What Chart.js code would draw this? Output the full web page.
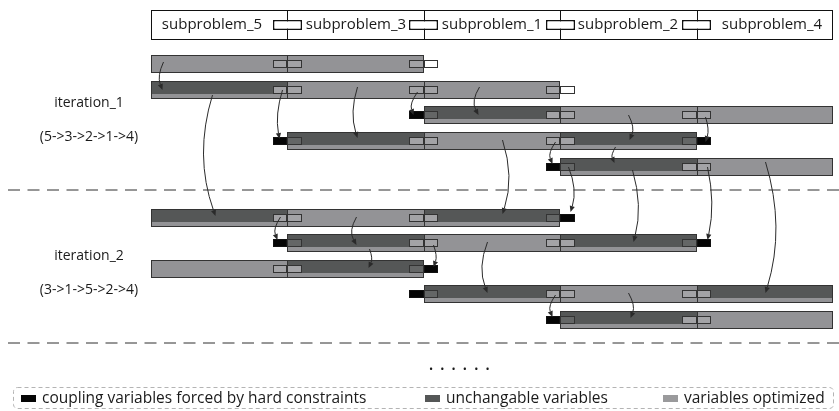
<!DOCTYPE html>
<html>
<head>
<meta charset="utf-8">
<script src="https://cdn.jsdelivr.net/npm/chart.js@4.4.0/dist/chart.umd.min.js"></script>
<style>
  html, body { margin: 0; padding: 0; background: #fff; }
  #wrap { width: 839px; height: 411px; position: relative; }
</style>
</head>
<body>
<div id="wrap"><canvas id="chartCanvas"></canvas></div>
<script>
// ---- data ----
const subproblems = ['subproblem_5', 'subproblem_3', 'subproblem_1', 'subproblem_2', 'subproblem_4'];
const iterations = ['iteration_1', 'iteration_2'];
const iterationOrders = ['(5->3->2->1->4)', '(3->1->5->2->4)'];
const iterationFirstRow = [0, 5];
const rowValues = [0, 1, 2, 3, 4, 6, 7, 8, 9, 10];

// one entry per subproblem slot in a row: [row, slot]
const optimizedSlots = [[0, 0], [0, 1], [1, 1], [1, 2], [2, 3], [2, 4], [3, 2], [4, 4],
                        [5, 1], [6, 2], [7, 0], [8, 3], [9, 4]];
const unchangeableSlots = [[1, 0], [2, 2], [3, 1], [3, 3], [4, 3], [5, 0], [5, 2],
                           [6, 1], [6, 3], [7, 1], [8, 2], [8, 4], [9, 3]];

// coupling boxes between two slots inside a bar: [row, joint]
const innerCouplings = [[0, 1], [1, 1], [1, 2], [2, 3], [2, 4], [3, 2], [3, 3], [4, 4],
                        [5, 1], [5, 2], [6, 2], [6, 3], [7, 1], [8, 3], [8, 4], [9, 4]];
// coupling at a bar end forced by hard constraints: [row, joint, side of the black half]
const forcedCouplings = [[2, 2, -1], [3, 1, -1], [3, 4, 1], [4, 3, -1], [5, 3, 1],
                         [6, 1, -1], [6, 4, 1], [7, 2, 1], [8, 2, -1], [9, 3, -1]];
// coupling at a bar end left open: [row, joint, side of the white half]
const openCouplings = [[0, 2, 1], [1, 3, 1]];

// arrows: [fromX, fromY, toX, toY, bend(px)]
const arrows = [
  [0.09, -0.09, 0.08, 1.00, -3],
  [0.45, 1.20, 0.47, 5.94, -10],
  [0.96, 1.00, 0.94, 2.92, -3],
  [1.51, 0.89, 1.51, 2.89, -4],
  [1.95, 1.09, 1.92, 1.98, -3],
  [2.405, 0.89, 2.40, 1.98, -4],
  [3.497, 1.98, 3.504, 2.96, 3],
  [4.06, 2.06, 4.06, 3.04, 2],
  [4.50, 3.82, 4.50, 8.95, 10],
  [2.573, 2.96, 2.573, 5.86, 6],
  [2.962, 3.04, 2.94, 3.90, -3],
  [3.402, 3.24, 3.394, 3.86, -2],
  [3.057, 4.02, 3.072, 5.78, 4],
  [3.526, 4.14, 3.534, 6.96, 5],
  [4.076, 4.02, 4.076, 6.88, 4],
  [0.946, 5.98, 0.924, 6.88, -3],
  [1.503, 5.98, 1.503, 7.07, -4],
  [1.598, 7.23, 1.591, 7.97, 2],
  [2.067, 7.07, 2.067, 7.93, 2],
  [2.463, 6.96, 2.463, 8.95, -5],
  [2.962, 9.03, 2.94, 9.89, -3],
  [3.497, 8.95, 3.512, 9.93, 3]
];

const legendLabels = ['coupling variables forced by hard constraints', 'unchangable variables', 'variables optimized'];

// ---- layout / style ----
const X_MIN = -1.107, X_MAX = 5.044, Y_MIN = -2.52, Y_MAX = 13.57;
const HEADER_Y = -1.54;
const SEPARATORS = [4.93, 10.91];
const BOX_HALF = 0.107;
const LIGHT = '#939396';
const DARK = '#555757';
const BOX_LIGHT = '#a3a3a6';
const BOX_DARK = '#646666';
const EDGE = '#333333';
const FONT = '"Open Sans", sans-serif';

const rowEnd = {};
optimizedSlots.concat(unchangeableSlots).forEach(([r, s]) => {
  rowEnd[r] = Math.max(rowEnd[r] || 0, s + 1);
});

function slotBar([r, s]) {
  return { x: [s, s + 1], y: rowValues[r], last: s + 1 === rowEnd[r] };
}

const allSlots = optimizedSlots.concat(unchangeableSlots).map(slotBar);
const darkSlots = unchangeableSlots.map(slotBar);

const lightHalves = [], darkHalves = [], whiteHalves = [], blackHalves = [];
innerCouplings.forEach(([r, j]) => {
  lightHalves.push({ x: [j - BOX_HALF, j], y: rowValues[r] });
  lightHalves.push({ x: [j, j + BOX_HALF], y: rowValues[r] });
});
forcedCouplings.forEach(([r, j, side]) => {
  const outside = side < 0 ? [j - BOX_HALF, j] : [j, j + BOX_HALF];
  const inside = side < 0 ? [j, j + BOX_HALF] : [j - BOX_HALF, j];
  blackHalves.push({ x: outside, y: rowValues[r] });
  darkHalves.push({ x: inside, y: rowValues[r] });
});
openCouplings.forEach(([r, j, side]) => {
  const outside = side < 0 ? [j - BOX_HALF, j] : [j, j + BOX_HALF];
  const inside = side < 0 ? [j, j + BOX_HALF] : [j - BOX_HALF, j];
  whiteHalves.push({ x: outside, y: rowValues[r] });
  lightHalves.push({ x: inside, y: rowValues[r] });
});

const headerBars = subproblems.map((s, i) => ({ x: [i, i + 1], y: HEADER_Y, last: i === subproblems.length - 1 }));
const headerBoxes = subproblems.slice(1).map((s, i) => ({ x: [i + 1 - BOX_HALF, i + 1 + BOX_HALF], y: HEADER_Y }));

function barSet(data, extra) {
  return Object.assign({
    type: 'bar',
    data: data,
    grouped: false,
    borderSkipped: false,
    inflateAmount: 0,
    borderWidth: 1,
    borderColor: EDGE
  }, extra);
}

function segBorder(bottom) {
  return ctx => ({ top: 1, left: 1, bottom: bottom, right: ctx.raw && ctx.raw.last ? 1 : 0 });
}

const decorPlugin = {
  id: 'decor',
  afterDatasetsDraw(chart) {
    const ctx = chart.ctx;
    const xs = chart.scales.x, ys = chart.scales.y;
    const px = v => xs.getPixelForValue(v);
    const py = v => ys.getPixelForValue(v);
    ctx.save();

    // header labels
    ctx.fillStyle = '#1a1a1a';
    ctx.font = '15px ' + FONT;
    ctx.textAlign = 'center';
    ctx.textBaseline = 'middle';
    subproblems.forEach((s, i) => {
      const left = i + (i > 0 ? BOX_HALF : 0);
      const right = i + 1 - (i < subproblems.length - 1 ? BOX_HALF : 0);
      ctx.fillText(s, px((left + right) / 2), py(HEADER_Y));
    });

    // iteration labels
    ctx.font = '14px ' + FONT;
    iterations.forEach((lab, k) => {
      const base = rowValues[iterationFirstRow[k]];
      ctx.fillText(lab, px(-0.458), py(base + 1.52));
      ctx.fillText(iterationOrders[k], px(-0.455), py(base + 2.85));
    });

    // arrows
    ctx.strokeStyle = '#2a2a2a';
    ctx.fillStyle = '#2a2a2a';
    ctx.lineWidth = 1;
    arrows.forEach(([fx, fy, tx, ty, bend]) => {
      const x0 = px(fx) + 0.5, y0 = py(fy), x1 = px(tx) + 0.5, y1 = py(ty);
      const cx = (x0 + x1) / 2 + 2 * bend, cy = (y0 + y1) / 2;
      const ang = Math.atan2(y1 - cy, x1 - cx);
      const L = 6, W = 2.6;
      const bx = x1 - L * Math.cos(ang), by = y1 - L * Math.sin(ang);
      ctx.beginPath();
      ctx.moveTo(x0, y0);
      ctx.quadraticCurveTo(cx, cy, bx, by);
      ctx.stroke();
      ctx.beginPath();
      ctx.moveTo(x1, y1);
      ctx.lineTo(bx + W * Math.sin(ang), by - W * Math.cos(ang));
      ctx.lineTo(bx - W * Math.sin(ang), by + W * Math.cos(ang));
      ctx.closePath();
      ctx.fill();
    });

    // ellipsis
    ctx.fillStyle = '#1a1a1a';
    ctx.font = '11px ' + FONT;
    for (let i = 0; i < 6; i++) {
      ctx.fillText('•', 431 + i * 11.3, 370);
    }

    // legend
    ctx.setLineDash([4, 3]);
    ctx.strokeStyle = '#b4b4b4';
    ctx.beginPath();
    ctx.roundRect(13.5, 387.5, 820, 21, 4);
    ctx.stroke();
    ctx.setLineDash([]);
    const legendColors = ['#050505', DARK, '#9a9a9c'];
    const markerX = [21, 425, 663];
    ctx.font = '15.5px ' + FONT;
    ctx.textAlign = 'left';
    legendLabels.forEach((lab, i) => {
      ctx.fillStyle = legendColors[i];
      ctx.fillRect(markerX[i], 395, 15, 7);
      ctx.fillStyle = '#1a1a1a';
      ctx.fillText(lab, markerX[i] + 21, 398.5);
    });
    ctx.restore();
  }
};

const ctx1 = document.getElementById('chartCanvas').getContext('2d');
new Chart(ctx1, {
  type: 'bar',
  data: {
    datasets: [
      barSet(headerBars, { order: 10, backgroundColor: '#ffffff', borderColor: '#111', barThickness: 30, borderWidth: segBorder(1) }),
      barSet(headerBoxes, { order: 9, backgroundColor: '#ffffff', borderColor: '#111', barThickness: 10, borderWidth: 1.5 }),
      barSet(allSlots, { order: 8, backgroundColor: LIGHT, barThickness: 18, borderWidth: segBorder(1) }),
      barSet(darkSlots, { order: 7, backgroundColor: DARK, borderColor: 'rgba(0,0,0,0)', barThickness: 18, borderWidth: segBorder(5) }),
      barSet(lightHalves, { order: 6, backgroundColor: BOX_LIGHT, barThickness: 8 }),
      barSet(darkHalves, { order: 6, backgroundColor: BOX_DARK, barThickness: 8 }),
      barSet(whiteHalves, { order: 6, backgroundColor: '#ffffff', barThickness: 8 }),
      barSet(blackHalves, { order: 6, backgroundColor: '#050505', borderColor: '#111', barThickness: 8 }),
      ...SEPARATORS.map(yv => ({
        type: 'line',
        order: 5,
        data: [{ x: X_MIN + 0.06, y: yv }, { x: X_MAX, y: yv }],
        borderColor: '#2e2e2e',
        borderWidth: 1,
        borderDash: [12, 7.5],
        pointRadius: 0,
        indexAxis: 'x'
      }))
    ]
  },
  options: {
    indexAxis: 'y',
    responsive: true,
    maintainAspectRatio: false,
    animation: false,
    layout: { padding: 0 },
    scales: {
      x: { type: 'linear', min: X_MIN, max: X_MAX, offset: false, alignToPixels: true, display: false },
      y: { type: 'linear', min: Y_MIN, max: Y_MAX, offset: false, alignToPixels: true, reverse: true, display: false }
    },
    plugins: {
      legend: { display: false },
      tooltip: { enabled: false }
    }
  },
  plugins: [decorPlugin]
});
</script>
</body>
</html>
